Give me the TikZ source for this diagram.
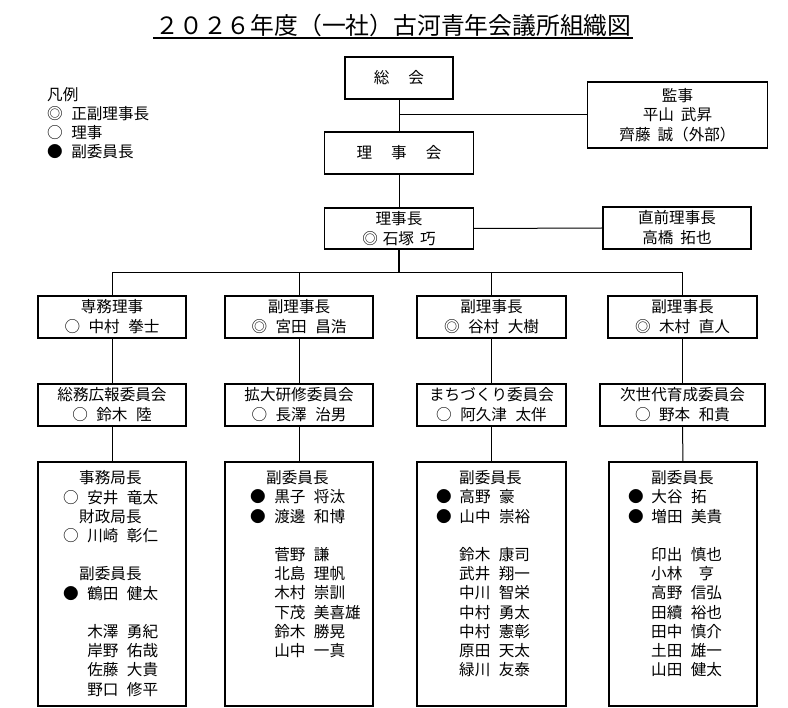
\documentclass[tikz,border=0pt]{standalone}
\usepackage{fontspec}
\setmainfont{Noto Sans CJK JP}
\newcommand\gp{\hspace{8.5pt}}
\newcommand\ia{\hspace*{16pt}}
\newcommand\na{\hspace*{24.1pt}}
\newcommand\ma{\hspace{8.5pt}}
\newcommand\ib{\hspace*{23pt}}
\newcommand\nb{\hspace*{23pt}}
\newcommand\mb{\hspace{7.6pt}}
\tikzset{
  box/.style={draw, line width=1.1pt, inner sep=0pt, align=center,
    font=\fontsize{15.6}{20}\selectfont},
  lst/.style={anchor=north west, inner sep=0pt, align=left,
    font=\fontsize{15.6}{19.2}\selectfont},
  conn/.style={line width=1pt},
}
\begin{document}
\begin{tikzpicture}[x=1pt,y=-1pt]
\useasboundingbox (0,0) rectangle (788,708);
% title
\node[inner sep=0pt, font=\fontsize{23.8}{26}\selectfont] (title) at (393.5,25) {２０２６年度（一社）古河青年会議所組織図};
\coordinate (ul1) at (153,38);
\coordinate (ul2) at (633,38);
\draw[line width=1.3pt] (ul1) -- (ul2);
% legend
\node[lst, font=\fontsize{15.6}{19}\selectfont] (legend) at (47,87) {凡例\\◎\ma 正副理事長\\○\ma 理事\\●\ma 副委員長};
% top
\node[box, minimum width=108pt, minimum height=42pt] (sokai) at (399,78) {総\hspace{19pt}会};
\node[box, minimum width=180pt, minimum height=66pt, font=\fontsize{15.6}{19.3}\selectfont] (kanji) at (677.5,115) {監事\\平山\hspace{7pt}武昇\\齊藤\hspace{7pt}誠（外部）};
\node[box, minimum width=149pt, minimum height=42pt] (rijikai) at (399,153) {理\hspace{19pt}事\hspace{19pt}会};
\node[box, minimum width=149pt, minimum height=41pt] (rijicho) at (399,228.5) {理事長\\◎\hspace{5pt}石塚\hspace{6pt}巧};
\node[box, minimum width=148pt, minimum height=42pt] (chokuzen) at (677,228) {直前理事長\\高橋\hspace{7pt}拓也};
% row 2
\node[box, minimum width=148pt, minimum height=42pt] (senmu) at (112,317) {専務理事\\○\gp 中村\gp 拳士};
\node[box, minimum width=148pt, minimum height=42pt] (fuku2) at (299,317) {副理事長\\◎\gp 宮田\gp 昌浩};
\node[box, minimum width=149pt, minimum height=42pt] (fuku3) at (491.5,317) {副理事長\\◎\gp 谷村\gp 大樹};
\node[box, minimum width=149pt, minimum height=42pt] (fuku4) at (682.5,317) {副理事長\\◎\gp 木村\gp 直人};
% row 3
\node[box, minimum width=148pt, minimum height=42pt] (iin1) at (112,405) {総務広報委員会\\○\gp 鈴木\gp 陸};
\node[box, minimum width=148pt, minimum height=42pt] (iin2) at (299,405) {拡大研修委員会\\○\gp 長澤\gp 治男};
\node[box, minimum width=149pt, minimum height=42pt] (iin3) at (491.5,405) {まちづくり委員会\\○\gp 阿久津\gp 太伴};
\node[box, minimum width=165pt, minimum height=42pt] (iin4) at (682.5,405) {次世代育成委員会\\○\gp 野本\gp 和貴};
% row 4 boxes
\node[box, minimum width=148pt, minimum height=244pt] (mem1) at (112,584) {};
\node[box, minimum width=148pt, minimum height=244pt] (mem2) at (299,584) {};
\node[box, minimum width=149pt, minimum height=244pt] (mem3) at (491.5,584) {};
\node[box, minimum width=148pt, minimum height=244pt] (mem4) at (683,584) {};
% row 4 texts
\node[lst] (list1) at (63,470.5) {\ia 事務局長\\○\ma 安井\gp 竜太\\\ia 財政局長\\○\ma 川崎\gp 彰仁\\\mbox{}\\\ia 副委員長\\●\ma 鶴田\gp 健太\\\mbox{}\\\na 木澤\gp 勇紀\\\na 岸野\gp 佑哉\\\na 佐藤\gp 大貴\\\na 野口\gp 修平};
\node[lst] (list2) at (250,470.5) {\ia 副委員長\\●\ma 黒子\gp 将汰\\●\ma 渡邊\gp 和博\\\mbox{}\\\na 菅野\gp 謙\\\na 北島\gp 理帆\\\na 木村\gp 崇訓\\\na 下茂\gp 美喜雄\\\na 鈴木\gp 勝晃\\\na 山中\gp 一真};
\node[lst] (list3) at (436,470.5) {\ib 副委員長\\●\mb 高野\gp 豪\\●\mb 山中\gp 崇裕\\\mbox{}\\\nb 鈴木\gp 康司\\\nb 武井\gp 翔一\\\nb 中川\gp 智栄\\\nb 中村\gp 勇太\\\nb 中村\gp 憲彰\\\nb 原田\gp 天太\\\nb 緑川\gp 友泰};
\node[lst] (list4) at (628,470.5) {\ib 副委員長\\●\mb 大谷\gp 拓\\●\mb 増田\gp 美貴\\\mbox{}\\\nb 印出\gp 慎也\\\nb 小林\gp \makebox[31.2pt]{亨}\\\nb 高野\gp 信弘\\\nb 田續\gp 裕也\\\nb 田中\gp 慎介\\\nb 土田\gp 雄一\\\nb 山田\gp 健太};
% connectors
\draw[conn] (sokai.south) -- (rijikai.north);
\coordinate (j1) at (sokai.south |- kanji.west);
\draw[conn] (j1) -- (kanji.west);
\draw[conn] (rijikai.south) -- (rijicho.north);
\draw[conn] (rijicho.east) -- (chokuzen.west);
\coordinate (bus) at (399,273);
\draw[line width=1.6pt] (rijicho.south) -- (bus);
\draw[conn] (senmu.north) |- (bus -| fuku4.north) -- (fuku4.north);
\draw[conn] (fuku2.north) -- (fuku2.north |- bus);
\draw[conn] (fuku3.north) -- (fuku3.north |- bus);
\draw[conn] (senmu.south) -- (iin1.north);
\draw[conn] (fuku2.south) -- (iin2.north);
\draw[conn] (fuku3.south) -- (iin3.north);
\draw[conn] (fuku4.south) -- (iin4.north);
\draw[conn] (iin1.south) -- (mem1.north);
\draw[conn] (iin2.south) -- (mem2.north);
\draw[conn] (iin3.south) -- (mem3.north);
\draw[conn] (iin4.south) -- (mem4.north);
\end{tikzpicture}
\end{document}
